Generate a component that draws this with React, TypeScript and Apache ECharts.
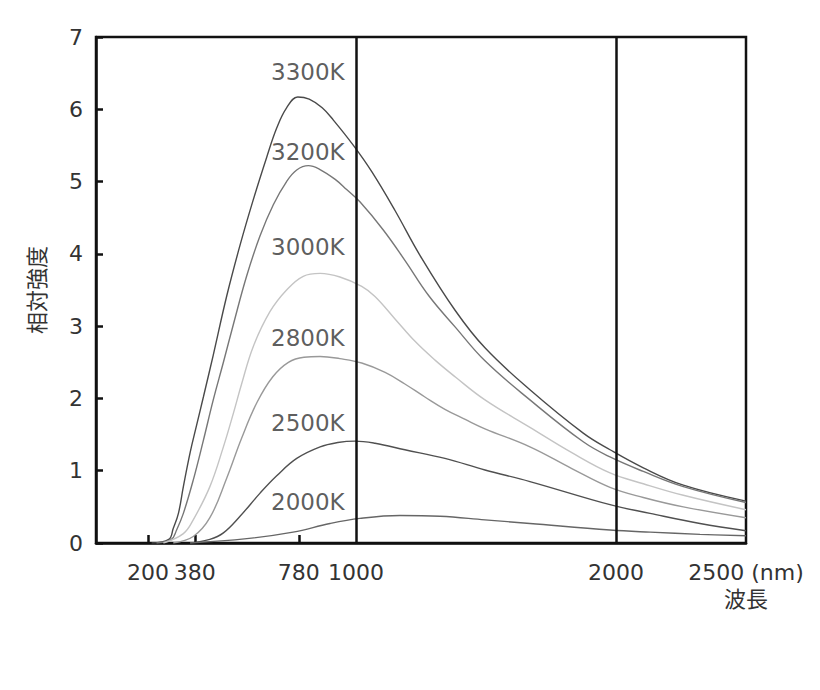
import React, { useEffect, useRef } from "react";
import * as echarts from "echarts";

// ---- data (wavelength nm, relative intensity) ----
const curve3300K: [number, number][] = [
  [214, 0], [280, 0.05], [297, 0.2], [317, 0.41], [336, 0.78], [362, 1.25], [387, 1.63],
  [413, 2.02], [451, 2.6], [503, 3.42], [554, 4.12], [605, 4.75], [656, 5.33], [695, 5.74],
  [733, 6.02], [776, 6.17], [820, 6.14], [870, 6.02], [913, 5.85], [990, 5.5], [1060, 5.14],
  [1150, 4.6], [1246, 3.98], [1381, 3.22], [1496, 2.7], [1669, 2.12], [1874, 1.52],
  [1977, 1.29], [2105, 1.04], [2259, 0.8], [2500, 0.58],
];
const curve3200K: [number, number][] = [
  [233, 0], [290, 0.05], [310, 0.18], [336, 0.41], [374, 0.87], [413, 1.42], [451, 1.98],
  [490, 2.5], [528, 3.02], [580, 3.7], [631, 4.25], [682, 4.68], [733, 5.0], [772, 5.16],
  [817, 5.22], [860, 5.17], [920, 5.03], [964, 4.89], [1015, 4.72], [1105, 4.33],
  [1188, 3.91], [1280, 3.42], [1381, 2.99], [1496, 2.52], [1669, 1.98], [1874, 1.4],
  [1977, 1.19], [2105, 0.99], [2259, 0.78], [2500, 0.56],
];
const curve3000K: [number, number][] = [
  [259, 0], [336, 0.13], [374, 0.32], [438, 0.78], [490, 1.33], [528, 1.79], [560, 2.2],
  [605, 2.72], [669, 3.2], [733, 3.5], [797, 3.69], [862, 3.73], [938, 3.68], [1022, 3.55],
  [1073, 3.41], [1150, 3.1], [1227, 2.79], [1304, 2.53], [1381, 2.3], [1496, 1.98],
  [1669, 1.6], [1830, 1.25], [1977, 0.97], [2105, 0.82], [2259, 0.66], [2500, 0.46],
];
const curve2800K: [number, number][] = [
  [297, 0], [374, 0.09], [438, 0.35], [503, 0.9], [560, 1.45], [620, 1.95], [680, 2.3],
  [740, 2.5], [800, 2.57], [862, 2.58], [938, 2.55], [1022, 2.49], [1112, 2.36],
  [1188, 2.2], [1265, 2.02], [1342, 1.85], [1420, 1.71], [1496, 1.58], [1669, 1.33],
  [1830, 1.03], [1977, 0.77], [2105, 0.63], [2259, 0.5], [2500, 0.35],
];
const curve2500K: [number, number][] = [
  [362, 0], [438, 0.05], [490, 0.14], [554, 0.37], [631, 0.69], [695, 0.93], [772, 1.17],
  [862, 1.33], [930, 1.39], [996, 1.41], [1073, 1.38], [1188, 1.29], [1342, 1.17],
  [1496, 1.01], [1669, 0.85], [1977, 0.53], [2131, 0.41], [2323, 0.27], [2500, 0.17],
];
const curve2000K: [number, number][] = [
  [362, 0], [580, 0.06], [758, 0.15], [900, 0.27], [1015, 0.34], [1169, 0.38], [1323, 0.37],
  [1496, 0.32], [1669, 0.27], [1977, 0.18], [2131, 0.15], [2323, 0.12], [2500, 0.1],
];

const curveNames = ["3300K", "3200K", "3000K", "2800K", "2500K", "2000K"];
const curveColors = ["#4a4a4a", "#777777", "#c4c4c4", "#999999", "#505050", "#666666"];
const labelPoints: [number, number][] = [
  [815, 6.52], [815, 5.41], [815, 4.09], [815, 2.84], [815, 1.66], [815, 0.57],
];

const xLabelValues = [200, 380, 780, 1000, 2000, 2500];
const xTickValues = [200, 380, 780];
const guideLines = [1000, 2000];
const yTicks = [0, 1, 2, 3, 4, 5, 6, 7];

const FONT = "'DejaVu Sans', 'Noto Sans CJK JP', sans-serif";

export default function App() {
  const ref = useRef<HTMLDivElement>(null);

  useEffect(() => {
    document.body.style.margin = "0";
    if (!ref.current) return;
    const chart = echarts.init(ref.current, undefined, { renderer: "svg" });
    const curves = [curve3300K, curve3200K, curve3000K, curve2800K, curve2500K, curve2000K];

    const lineSeries = curves.map((d, i) => ({
      name: curveNames[i],
      type: "line",
      data: d,
      smooth: 0.4,
      showSymbol: false,
      symbol: "none",
      lineStyle: { color: curveColors[i], width: 1.4 },
      z: 3,
    }));

    chart.setOption({
      animation: false,
      backgroundColor: "#ffffff",
      textStyle: { fontFamily: FONT },
      grid: {
        left: 96,
        right: 74,
        top: 37,
        bottom: 147,
        show: true,
        borderColor: "#111",
        borderWidth: 2.5,
        backgroundColor: "transparent",
      },
      xAxis: {
        type: "value",
        min: 0,
        max: 2500,
        splitLine: { show: false },
        axisLine: { show: true, lineStyle: { color: "#111", width: 2.5 } },
        axisTick: {
          show: true,
          inside: true,
          length: 8,
          customValues: xTickValues,
          lineStyle: { color: "#111", width: 2.5 },
        },
        axisLabel: {
          customValues: xLabelValues,
          fontSize: 22,
          color: "#333",
          margin: 16,
          lineHeight: 27,
          fontFamily: FONT,
          formatter: (v: number) => (v === 2500 ? "2500 (nm)\n波長" : String(v)),
        },
      },
      yAxis: {
        type: "value",
        min: 0,
        max: 7,
        interval: 1,
        name: "相対強度",
        nameLocation: "middle",
        nameGap: 50,
        nameTextStyle: { fontSize: 22, color: "#333", fontFamily: "'Noto Sans CJK JP', sans-serif" },
        splitLine: { show: false },
        axisLine: { show: true, lineStyle: { color: "#111", width: 2.5 } },
        axisTick: {
          show: true,
          inside: true,
          length: 7,
          customValues: yTicks,
          lineStyle: { color: "#111", width: 2.5 },
        },
        axisLabel: { fontSize: 22, color: "#333", margin: 13, fontFamily: FONT },
      },
      series: [
        ...lineSeries,
        {
          name: "guides",
          type: "line",
          data: [],
          markLine: {
            silent: true,
            symbol: "none",
            label: { show: false },
            lineStyle: { color: "#111", width: 2.5, type: "solid" },
            data: guideLines.map((x) => ({ xAxis: x })),
          },
        },
        {
          name: "labels",
          type: "scatter",
          data: labelPoints,
          symbolSize: 1,
          itemStyle: { color: "rgba(0,0,0,0)" },
          silent: true,
          z: 5,
          label: {
            show: true,
            position: "inside",
            fontSize: 23,
            color: "#333",
            fontFamily: FONT,
            formatter: (p: any) => curveNames[p.dataIndex],
          },
        },
      ],
    });

    return () => chart.dispose();
  }, []);

  return <div ref={ref} style={{ width: 820, height: 690 }} />;
}
